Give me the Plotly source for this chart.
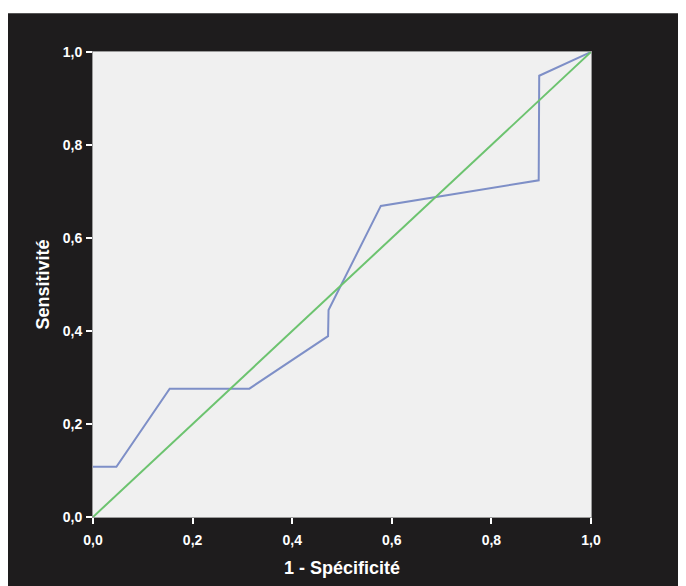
import plotly.graph_objects as go

# ROC curve data (1 - specificity, sensitivity)
roc_x = [0.0, 0.047, 0.154, 0.314, 0.472, 0.473, 0.578, 0.895, 0.896, 1.0]
roc_y = [0.108, 0.108, 0.276, 0.276, 0.389, 0.445, 0.669, 0.724, 0.949, 1.0]
ref_x = [0.0, 1.0]
ref_y = [0.0, 1.0]
tick_vals = [0.0, 0.2, 0.4, 0.6, 0.8, 1.0]

# page has an 8px body margin, so the figure frame starts at page (8, 8)
W, H = 678, 578
ML, MT = 85, 44
PW, PH = 498, 467
MR = W - ML - PW
MB = H - MT - PH

def px_x(p):
    return (p - ML) / PW

def px_y(p):
    return (H - MB - p) / PH

FONT = "Liberation Sans, Arial"

fig = go.Figure()
fig.add_trace(go.Scatter(x=roc_x, y=roc_y, mode="lines",
                         line=dict(color="#7e8fc7", width=2), showlegend=False))
fig.add_trace(go.Scatter(x=ref_x, y=ref_y, mode="lines",
                         line=dict(color="#6cc36f", width=2), showlegend=False))

axis_common = dict(
    range=[0, 1], tickvals=tick_vals, tickformat=".1f",
    ticks="outside", ticklen=6, tickwidth=2, tickcolor="white",
    tickfont=dict(family=FONT, size=14, color="white", weight="bold"),
    showgrid=False, zeroline=False,
    showline=True, linecolor="#9a9a9a", linewidth=1, mirror=True,
    fixedrange=True,
)

fig.update_xaxes(**axis_common, ticklabelstandoff=4,
                 title=dict(text="1 - Spécificité", standoff=14,
                            font=dict(family=FONT, size=18, color="white", weight="bold")))
fig.update_yaxes(**axis_common, ticklabelstandoff=1,
                 title=dict(text="Sensitivité", standoff=8,
                            font=dict(family=FONT, size=18, color="white", weight="bold")))

# white strip at the top of the picture (page y 8..13)
fig.add_shape(type="rect", xref="paper", yref="paper",
              x0=px_x(-2), x1=px_x(W + 2), y0=px_y(5), y1=px_y(-2),
              fillcolor="white", line=dict(width=0), layer="above")

fig.update_layout(
    width=W, height=H,
    margin=dict(l=ML, r=MR, t=MT, b=MB),
    paper_bgcolor="#1e1c1d", plot_bgcolor="#f0f0f0",
    separators=", ",
    showlegend=False,
)

fig.write_html("out.html")
